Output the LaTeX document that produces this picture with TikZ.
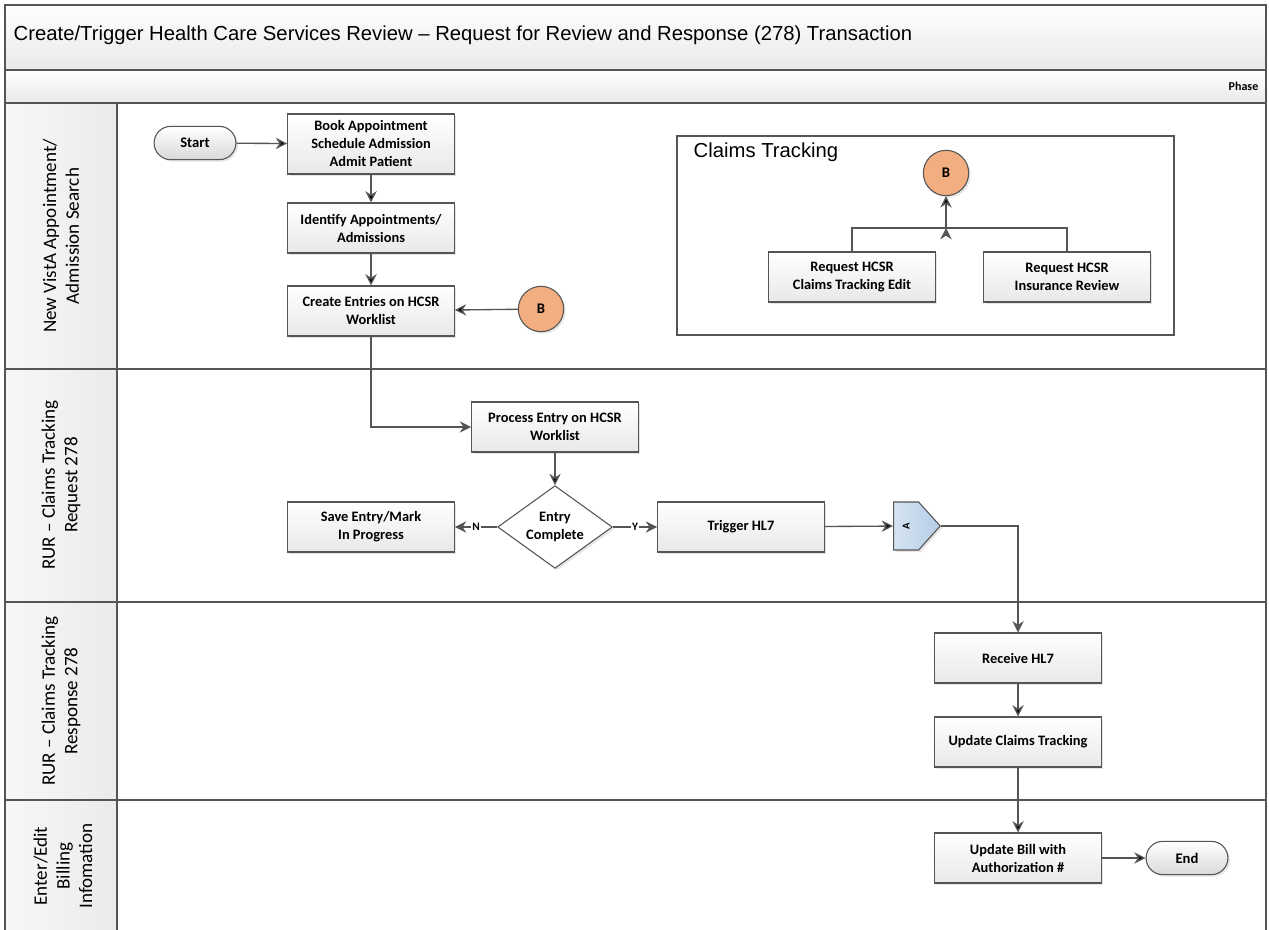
\documentclass[tikz,border=0pt]{standalone}
\usepackage{fontspec}
\setmainfont{Carlito}
\newfontfamily\arialfont{Liberation Sans}
\usepackage{tikz}
\usetikzlibrary{positioning, shapes.geometric, shapes.misc, shapes.symbols, shadows, arrows.meta}
\definecolor{linegray}{HTML}{555555}
\definecolor{boborange}{HTML}{F2AE80}
\definecolor{offblue}{HTML}{B4CDE6}
\definecolor{bandgray}{HTML}{E9E9E9}

\begin{document}
\begin{tikzpicture}[x=0.75pt,y=-0.75pt]
	\tikzstyle{frame}=[draw=linegray,line width=1pt]
	\tikzstyle{proc}=[rectangle,draw=linegray,line width=0.8pt,top color=white,bottom color=black!9,minimum width=125pt,minimum height=37.5pt,inner sep=2pt,align=center,font=\fontsize{10.8}{13.5}\selectfont\bfseries,drop shadow={shadow xshift=1.5pt,shadow yshift=-1.5pt,opacity=0.2}]
	\tikzstyle{term}=[rounded rectangle,draw=linegray,line width=0.8pt,top color=white,bottom color=black!15,minimum width=68pt,minimum height=25pt,font=\fontsize{11}{13}\selectfont\bfseries,drop shadow={shadow xshift=1.5pt,shadow yshift=-1.5pt,opacity=0.2}]
	\tikzstyle{decision}=[diamond,aspect=1.4,draw=linegray,line width=0.8pt,fill=white,minimum width=86pt,minimum height=62pt,inner sep=0pt,align=center,font=\fontsize{10.8}{13}\selectfont\bfseries,drop shadow={shadow xshift=1.5pt,shadow yshift=-1.5pt,opacity=0.2}]
	\tikzstyle{connector}=[circle,draw=linegray,line width=0.8pt,fill=boborange,minimum size=34pt,inner sep=0pt,font=\fontsize{11}{13}\selectfont\bfseries,drop shadow={shadow xshift=1.5pt,shadow yshift=-1.5pt,opacity=0.2}]
	\tikzstyle{offpage}=[signal,signal to=east,signal pointer angle=96,draw=linegray,line width=0.8pt,left color=offblue!55,right color=offblue,minimum width=35pt,minimum height=36pt,inner sep=0pt,font=\fontsize{8}{9}\selectfont\bfseries,drop shadow={shadow xshift=1.5pt,shadow yshift=-1.5pt,opacity=0.2}]
	\tikzstyle{lanelabel}=[rotate=90,align=center,font=\fontsize{14.3}{17}\selectfont]
	\tikzstyle{flow}=[draw=linegray,line width=1pt,-{Stealth[length=8.5pt,width=8.5pt]}]
	\tikzstyle{plain}=[draw=linegray,line width=1pt]
	\tikzstyle{yn}=[midway,fill=white,inner sep=1pt,font=\fontsize{8.5}{9}\selectfont\bfseries]

	\useasboundingbox (0,0) rectangle (1269,930);
	\fill[white] (0,0) rectangle (1269,930);
	\fill[top color=white,bottom color=bandgray] (5,5) rectangle (1266,70);
	\fill[top color=white,bottom color=bandgray] (5,70) rectangle (1266,103);
	\fill[left color=black!3,right color=black!8] (5,103) rectangle (117,930);
	\draw[frame] (5,930) -- (5,5) -- (1266,5) -- (1266,930);
	\draw[frame] (5,70) -- (1266,70);
	\draw[frame] (5,103) -- (1266,103);
	\draw[frame] (5,369) -- (1266,369);
	\draw[frame] (5,602) -- (1266,602);
	\draw[frame] (5,800) -- (1266,800);
	\draw[frame] (117,103) -- (117,930);

	\node[anchor=west,font=\arialfont\fontsize{15.2}{18}\selectfont](title) at (9,35){Create/Trigger Health Care Services Review – Request for Review and Response (278) Transaction};
	\node[anchor=east,font=\fontsize{9}{10}\selectfont\bfseries](phase) at (1263,86){Phase};

	\node[lanelabel](lane1) at (61,236){New VistA Appointment/\\Admission Search};
	\node[lanelabel](lane2) at (61,485){RUR – Claims Tracking\\Request 278};
	\node[lanelabel](lane3) at (61,701){RUR – Claims Tracking\\Response 278};
	\node[lanelabel](lane4) at (63,866){Enter/Edit\\Billing\\Infomation};

	\node[draw=linegray,line width=0.8pt,minimum width=372.75pt,minimum height=149.25pt](ctbox) at (925.5,235.5){};
	\node[anchor=west,font=\arialfont\fontsize{15.2}{18}\selectfont](cttitle) at (689,152){Claims Tracking};

	\node[term](start) at (195,143){Start};
	\node[proc,minimum height=45pt](book) at (371,144){Book Appointment\\Schedule Admission\\Admit Patient};
	\node[proc](ident) at (371,228){Identify Appointments/\\Admissions};
	\node[proc](create) at (371,311){Create Entries on HCSR\\Worklist};
	\node[connector](bleft) at (541,309){B};
	\node[connector](btop) at (946,173){B};
	\node[proc](ctedit) at (852,277){Request HCSR\\Claims Tracking Edit};
	\node[proc](insrev) at (1067,277){Request HCSR\\Insurance Review};
	\coordinate(jn) at (946,228);
	\node[proc](proc) at (555,427){Process Entry on HCSR\\Worklist};
	\node[decision](dec) at (555,527){Entry\\Complete};
	\node[proc](save) at (371,527){Save Entry/Mark\\In Progress};
	\node[proc](trig) at (741,527){Trigger HL7};
	\node[offpage,anchor=west](offpg) at (893,526){\rotatebox{90}{A}};
	\node[proc](recv) at (1018,658){Receive HL7};
	\node[proc](upd) at (1018,742){Update Claims Tracking};
	\node[proc](bill) at (1018,858){Update Bill with\\Authorization \#};
	\node[term](end) at (1187,858){End};

	\path[flow]
		(start) edge (book)
		(book) edge (ident)
		(ident) edge (create)
		(bleft) edge (create)
		(proc) edge (dec)
		(trig) edge (offpg)
		(recv) edge (upd)
		(upd) edge (bill)
		(bill) edge (end)
		(jn) edge (btop);
	\draw[flow] (create.south) |- (proc.west);
	\draw[flow] (dec.west) -- node[yn]{N} (save.east);
	\draw[flow] (dec.east) -- node[yn]{Y} (trig.west);
	\draw[flow] (offpg.east) -| (recv.north);
	\draw[plain] (ctedit.north) |- (jn) -| (insrev.north);
\end{tikzpicture}
\end{document}
